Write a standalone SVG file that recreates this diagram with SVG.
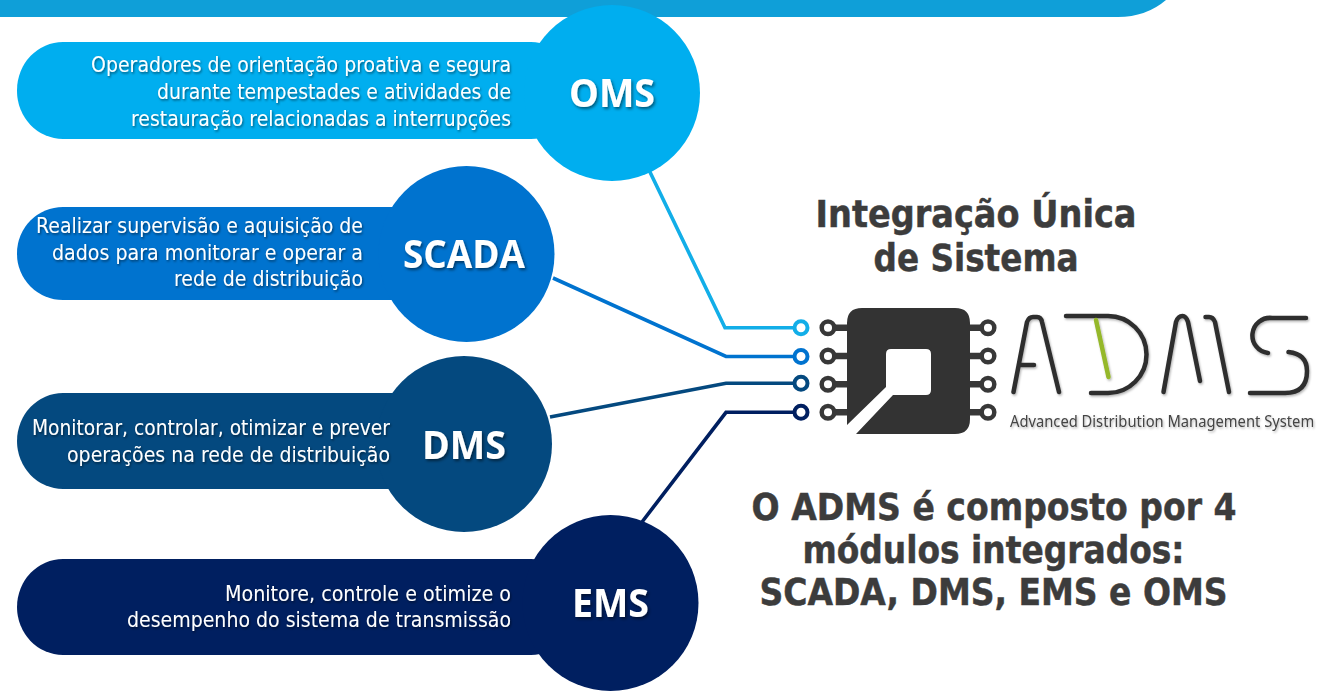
<svg xmlns="http://www.w3.org/2000/svg" width="1319" height="692" viewBox="0 0 1319 692">
<defs>
<filter id="ts" x="-10%" y="-30%" width="120%" height="170%"><feDropShadow dx="1" dy="1.5" stdDeviation="1" flood-color="#000" flood-opacity="0.5"/></filter>
<filter id="ls" x="-10%" y="-30%" width="120%" height="170%"><feDropShadow dx="1.5" dy="2" stdDeviation="1.5" flood-color="#000" flood-opacity="0.5"/></filter>
<filter id="ss" x="-5%" y="-10%" width="110%" height="130%"><feDropShadow dx="1" dy="1.5" stdDeviation="1" flood-color="#000" flood-opacity="0.3"/></filter>
</defs>
<style>
.d{font-family:"DejaVu Sans","Liberation Sans",sans-serif;font-size:21px;fill:#fff;filter:url(#ts)}
.l{font-family:"Open Sans","Noto Sans",sans-serif;font-weight:700;font-size:39px;fill:#fff;filter:url(#ls)}
.h{font-family:"DejaVu Sans","Liberation Sans",sans-serif;font-weight:700;font-size:37px;fill:#3c3c3c;stroke:#3c3c3c;stroke-width:.5px}
.w{fill:none;stroke-width:3.6}
.t{fill:#fff;stroke-width:4}
.p{fill:#fff;stroke:#383838;stroke-width:4.500}
.b{fill:none;stroke:#383838;stroke-width:6.500}
.g{fill:none;stroke:#2e2e2e;stroke-width:4.500;stroke-linecap:round;stroke-linejoin:round}
</style>
<path id="header" d="M0 0H1166Q1146 17 1118 17H0Z" fill="#0f9fd8"/>
<g id="connectors">
<path class="w" stroke="#12aee8" d="M649 170L725 327.700H795"/>
<path class="w" stroke="#0073cf" d="M553 278L726 356.500H795"/>
<path class="w" stroke="#04497f" d="M550 417L726 383.300H795"/>
<path class="w" stroke="#001f60" d="M642 522L726 412.300H795"/>
<circle class="t" cx="801" cy="327.700" r="6.500" stroke="#12aee8"/>
<circle class="t" cx="801" cy="356.500" r="6.500" stroke="#0073cf"/>
<circle class="t" cx="801" cy="383.300" r="6.500" stroke="#04497f"/>
<circle class="t" cx="801" cy="412.300" r="6.500" stroke="#001f60"/>
</g>
<g id="oms">
<rect x="17" y="42" width="560" height="97" rx="46" ry="48" fill="#00aeef"/>
<circle cx="612" cy="93" r="88" fill="#00aeef"/>
<text class="l" x="569" y="107" textLength="86" lengthAdjust="spacingAndGlyphs">OMS</text>
<text class="d" x="91" y="72" textLength="420" lengthAdjust="spacingAndGlyphs">Operadores de orientação proativa e segura</text>
<text class="d" x="157" y="99" textLength="354" lengthAdjust="spacingAndGlyphs">durante tempestades e atividades de</text>
<text class="d" x="131" y="126" textLength="380" lengthAdjust="spacingAndGlyphs">restauração relacionadas a interrupções</text>
</g>
<g id="scada">
<rect x="17" y="207" width="440" height="93" rx="46" ry="46" fill="#0073cf"/>
<circle cx="466.500" cy="254" r="88" fill="#0073cf"/>
<text class="l" x="403" y="268" textLength="122" lengthAdjust="spacingAndGlyphs">SCADA</text>
<text class="d" x="36" y="233" textLength="327" lengthAdjust="spacingAndGlyphs">Realizar supervisão e aquisição de</text>
<text class="d" x="52" y="259.500" textLength="311" lengthAdjust="spacingAndGlyphs">dados para monitorar e operar a</text>
<text class="d" x="174" y="286" textLength="189" lengthAdjust="spacingAndGlyphs">rede de distribuição</text>
</g>
<g id="dms">
<rect x="17" y="393" width="440" height="96" rx="46" ry="48" fill="#04497f"/>
<circle cx="464" cy="444" r="88" fill="#04497f"/>
<text class="l" x="422" y="459" textLength="84" lengthAdjust="spacingAndGlyphs">DMS</text>
<text class="d" x="32" y="435" textLength="358" lengthAdjust="spacingAndGlyphs">Monitorar, controlar, otimizar e prever</text>
<text class="d" x="67" y="462" textLength="323" lengthAdjust="spacingAndGlyphs">operações na rede de distribuição</text>
</g>
<g id="ems">
<rect x="17" y="559" width="560" height="96" rx="46" ry="48" fill="#001f60"/>
<circle cx="610.500" cy="603" r="88" fill="#001f60"/>
<text class="l" x="572" y="617" textLength="77" lengthAdjust="spacingAndGlyphs">EMS</text>
<text class="d" x="225" y="601" textLength="286" lengthAdjust="spacingAndGlyphs">Monitore, controle e otimize o</text>
<text class="d" x="127" y="627" textLength="384" lengthAdjust="spacingAndGlyphs">desempenho do sistema de transmissão</text>
</g>
<g id="adms-chip">
<path class="b" d="M834 327.700H850M834 356H850M834 384.300H850M834 412.300H850M968 327.700H982M968 356H982M968 384.300H982M968 412.300H982"/>
<circle class="p" cx="828" cy="327.700" r="6.300"/><circle class="p" cx="828" cy="356" r="6.300"/><circle class="p" cx="828" cy="384.300" r="6.300"/><circle class="p" cx="828" cy="412.300" r="6.300"/>
<circle class="p" cx="988" cy="327.700" r="6.300"/><circle class="p" cx="988" cy="356" r="6.300"/><circle class="p" cx="988" cy="384.300" r="6.300"/><circle class="p" cx="988" cy="412.300" r="6.300"/>
<path fill="#333" d="M862 308H955Q970 308 970 323V419Q970 434 955 434H856L893 395H926Q931 395 931 390V354Q931 349 926 349H891Q886 349 886 354V387L847 425V323Q847 308 862 308Z"/>
</g>
<g id="adms-logo" filter="url(#ss)">
<path class="g" d="M1013.500 392L1027 322Q1029 317 1033 317H1037Q1041 317 1042 322L1059 392M1020 365H1034"/>
<path class="g" d="M1066 316H1108A38.500 38.500 0 0 1 1108 393H1091"/>
<path fill="none" stroke="#95b82a" stroke-width="4.500" stroke-linecap="round" d="M1096 320L1108.500 377"/>
<path class="g" d="M1163.500 392L1176 322Q1178 316 1182.500 316Q1186 316 1188 322L1200 381"/>
<path class="g" d="M1205.500 317H1209Q1213 317 1215 322L1229 392"/>
<path class="g" d="M1306 318H1272A17.500 17.500 0 0 0 1268 353M1288.500 352Q1307 354 1307 371Q1307 393 1285 393H1250"/>
<text transform="translate(1010 426.500) scale(0.9 1)" x="0" y="0" textLength="338" lengthAdjust="spacingAndGlyphs" font-family="'Noto Sans','DejaVu Sans',sans-serif" font-size="16.500" fill="#444">Advanced Distribution Management System</text>
</g>
<g id="headings">
<text class="h" x="815.500" y="227" textLength="321" lengthAdjust="spacingAndGlyphs">Integração Única</text>
<text class="h" x="873.500" y="271" textLength="205" lengthAdjust="spacingAndGlyphs">de Sistema</text>
<text class="h" x="751.500" y="520" textLength="485" lengthAdjust="spacingAndGlyphs">O ADMS é composto por 4</text>
<text class="h" x="802.500" y="563" textLength="382" lengthAdjust="spacingAndGlyphs">módulos integrados:</text>
<text class="h" x="759.500" y="605" textLength="468" lengthAdjust="spacingAndGlyphs">SCADA, DMS, EMS e OMS</text>
</g>
</svg>
